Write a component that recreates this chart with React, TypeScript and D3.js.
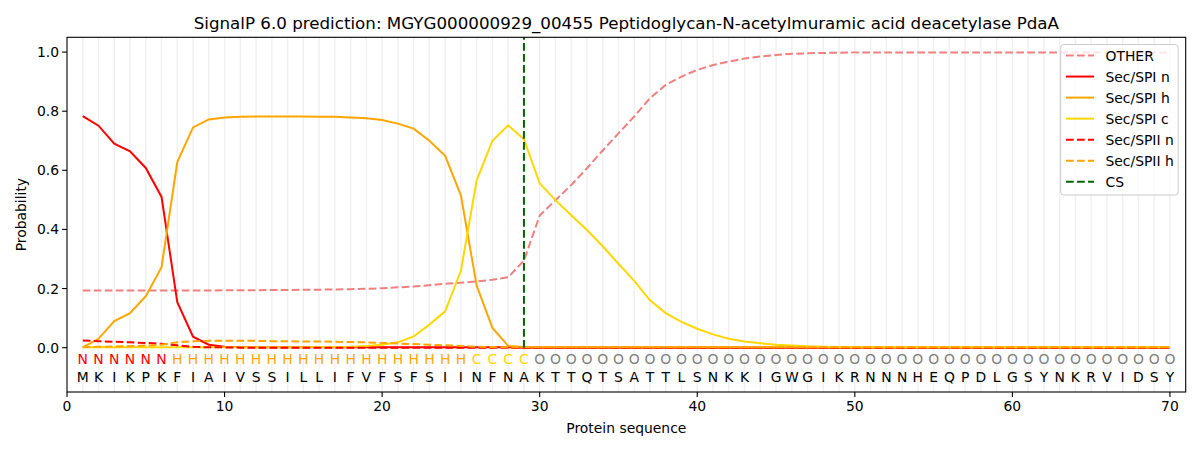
import React from "react";
import { scaleLinear, line, range } from "d3";

const sequence = "MKIKPKFIAIVSSILLIFVFSFSIINFNAKTTQTSATTLSNKKIGWGIKRNNNHEQPDLGSYNKRVIDSY".split("");
const regions = "NNNNNNHHHHHHHHHHHHHHHHHHHCCCCOOOOOOOOOOOOOOOOOOOOOOOOOOOOOOOOOOOOOOOOO".split("");

// per-residue probabilities (positions 1..70)
const other = [
  0.193, 0.193, 0.193, 0.193, 0.193, 0.193, 0.193, 0.193, 0.193, 0.194,
  0.194, 0.194, 0.195, 0.195, 0.196, 0.196, 0.197, 0.198, 0.199, 0.201,
  0.204, 0.207, 0.211, 0.216, 0.220, 0.224, 0.230, 0.238, 0.295, 0.447,
  0.499, 0.550, 0.607, 0.667, 0.725, 0.782, 0.844, 0.889, 0.917, 0.940,
  0.956, 0.968, 0.978, 0.985, 0.990, 0.994, 0.996, 0.997, 0.998, 0.999,
  0.999, 0.999, 0.999, 0.999, 0.999, 0.999, 0.999, 0.999, 0.999, 0.999,
  0.999, 0.999, 0.999, 0.999, 0.999, 0.999, 0.998, 0.998, 0.998, 0.998,
];
const spiN = [
  0.783, 0.751, 0.690, 0.664, 0.608, 0.510, 0.154, 0.037, 0.010, 0.003,
  0.002, 0.001, 0.001, 0.001, 0.001, 0.001, 0.001, 0.001, 0.001, 0.001,
  0.001, 0.001, 0.001, 0.001, 0.001, 0.001, 0.001, 0.001, 0, 0,
  0, 0, 0, 0, 0, 0, 0, 0, 0, 0,
  0, 0, 0, 0, 0, 0, 0, 0, 0, 0,
  0, 0, 0, 0, 0, 0, 0, 0, 0, 0,
  0, 0, 0, 0, 0, 0, 0, 0, 0, 0,
];
const spiH = [
  0.001, 0.030, 0.090, 0.117, 0.174, 0.272, 0.628, 0.745, 0.772, 0.779,
  0.781, 0.782, 0.782, 0.782, 0.782, 0.781, 0.781, 0.779, 0.776, 0.770,
  0.758, 0.741, 0.700, 0.649, 0.515, 0.210, 0.067, 0.006, 0.002, 0.001,
  0.001, 0.001, 0.001, 0.001, 0.001, 0.001, 0.001, 0.001, 0.001, 0.001,
  0.001, 0.001, 0.001, 0.001, 0.001, 0.001, 0.001, 0.001, 0.001, 0.001,
  0.001, 0.001, 0.001, 0.001, 0.001, 0.001, 0.001, 0.001, 0.001, 0.001,
  0.001, 0.001, 0.001, 0.001, 0.001, 0.001, 0.001, 0.001, 0.001, 0.001,
];
const spiC = [
  0.001, 0.001, 0.001, 0.001, 0.001, 0.001, 0.001, 0.001, 0.001, 0.001,
  0.001, 0.001, 0.001, 0.001, 0.001, 0.002, 0.002, 0.003, 0.006, 0.010,
  0.018, 0.038, 0.078, 0.123, 0.260, 0.566, 0.700, 0.752, 0.705, 0.556,
  0.499, 0.448, 0.398, 0.343, 0.284, 0.226, 0.160, 0.117, 0.087, 0.064,
  0.045, 0.030, 0.021, 0.015, 0.010, 0.007, 0.005, 0.003, 0.002, 0.001,
  0.001, 0.001, 0.001, 0.001, 0.001, 0.001, 0.001, 0.001, 0.001, 0.001,
  0.001, 0.001, 0.001, 0.001, 0.001, 0.001, 0.001, 0.001, 0.001, 0.001,
];
const spiiN = [
  0.024, 0.022, 0.020, 0.018, 0.016, 0.013, 0.008, 0.003, 0.001, 0.001,
  0, 0, 0, 0, 0, 0, 0, 0, 0, 0,
  0, 0, 0, 0, 0, 0, 0, 0, 0, 0,
  0, 0, 0, 0, 0, 0, 0, 0, 0, 0,
  0, 0, 0, 0, 0, 0, 0, 0, 0, 0,
  0, 0, 0, 0, 0, 0, 0, 0, 0, 0,
  0, 0, 0, 0, 0, 0, 0, 0, 0, 0,
];
const spiiH = [
  0.001, 0.003, 0.004, 0.005, 0.007, 0.010, 0.018, 0.022, 0.023, 0.023,
  0.023, 0.023, 0.022, 0.022, 0.021, 0.021, 0.020, 0.019, 0.018, 0.016,
  0.014, 0.012, 0.010, 0.008, 0.006, 0.003, 0.002, 0.001, 0.001, 0.001,
  0.001, 0.001, 0.001, 0.001, 0.001, 0.001, 0.001, 0.001, 0.001, 0.001,
  0.001, 0.001, 0.001, 0.001, 0.001, 0.001, 0.001, 0.001, 0.001, 0.001,
  0.001, 0.001, 0.001, 0.001, 0.001, 0.001, 0.001, 0.001, 0.001, 0.001,
  0.001, 0.001, 0.001, 0.001, 0.001, 0.001, 0.001, 0.001, 0.001, 0.001,
];
const csPos = 29;
const xTicks = [0, 10, 20, 30, 40, 50, 60, 70];
const yTicks = [0, 0.2, 0.4, 0.6, 0.8, 1.0];

const series = [
  { name: "OTHER", values: other, color: "#f08080", dashed: true },
  { name: "Sec/SPI n", values: spiN, color: "#ff0000", dashed: false },
  { name: "Sec/SPI h", values: spiH, color: "#ffa500", dashed: false },
  { name: "Sec/SPI c", values: spiC, color: "#ffd700", dashed: false },
  { name: "Sec/SPII n", values: spiiN, color: "#ff0000", dashed: true },
  { name: "Sec/SPII h", values: spiiH, color: "#ffa500", dashed: true },
];

const regionColor = { N: "#ff0000", H: "#ffa500", C: "#ffd700", O: "#808080" };

const W = 1200, H = 450;
const left = 67, right = 1185.7, top = 37.3, bottom = 392;
const font = "DejaVu Sans, sans-serif";
const dash = "7.7,3.3";

export default function App() {
  const x = scaleLinear().domain([0, 71]).range([left, right]);
  const y = scaleLinear().domain([-0.15, 1.05]).range([bottom, top]);
  const pos = range(1, 71);
  const path = line<number>().x((_, i) => x(i + 1)).y((d) => y(d));

  const legendItems = [...series, { name: "CS", color: "#006400", dashed: true }];

  return (
    <div style={{ position: "absolute", left: 0, top: 0 }}>
      <svg width={W} height={H} style={{ fontFamily: font, background: "#fff", display: "block" }}>
        {/* residue gridlines */}
        {pos.map((p) => (
          <line key={p} x1={x(p)} x2={x(p)} y1={top} y2={bottom} stroke="#000" strokeOpacity={0.06} strokeWidth={1.5} />
        ))}

        {series.map((s) => (
          <path key={s.name} d={path(s.values) || ""} fill="none" stroke={s.color} strokeWidth={2}
            strokeDasharray={s.dashed ? dash : undefined} />
        ))}

        <line x1={x(csPos)} x2={x(csPos)} y1={y(0)} y2={top} stroke="#006400" strokeWidth={2} strokeDasharray={dash} />

        {/* region and residue letters */}
        {pos.map((p, i) => (
          <g key={p}>
            <text x={x(p)} y={y(-0.04)} textAnchor="middle" dominantBaseline="central" fontSize={13.9}
              fill={regionColor[regions[i]]}>{regions[i]}</text>
            <text x={x(p)} y={y(-0.1)} textAnchor="middle" dominantBaseline="central" fontSize={13.9}
              fill="#000">{sequence[i]}</text>
          </g>
        ))}

        {/* axes frame */}
        <rect x={left} y={top} width={right - left} height={bottom - top} fill="none" stroke="#000" strokeWidth={1.1} />

        {xTicks.map((t) => (
          <g key={t}>
            <line x1={x(t)} x2={x(t)} y1={bottom} y2={bottom + 4.9} stroke="#000" strokeWidth={1.1} />
            <text x={x(t)} y={bottom + 19} textAnchor="middle" fontSize={13.9}>{t}</text>
          </g>
        ))}
        {yTicks.map((t) => (
          <g key={t}>
            <line x1={left - 4.9} x2={left} y1={y(t)} y2={y(t)} stroke="#000" strokeWidth={1.1} />
            <text x={left - 8} y={y(t)} textAnchor="end" dominantBaseline="central" fontSize={13.9}>{t.toFixed(1)}</text>
          </g>
        ))}

        <text x={(left + right) / 2} y={433} textAnchor="middle" fontSize={13.9}>Protein sequence</text>
        <text transform={`translate(26,${(top + bottom) / 2}) rotate(-90)`} textAnchor="middle" fontSize={13.9}>Probability</text>
        <text x={(left + right) / 2} y={29} textAnchor="middle" fontSize={16.7}>
          SignalP 6.0 prediction: MGYG000000929_00455 Peptidoglycan-N-acetylmuramic acid deacetylase PdaA
        </text>

        {/* legend */}
        <g>
          <rect x={1060.7} y={44.5} width={117.5} height={150.5} rx={3} fill="#fff" fillOpacity={0.8} stroke="#cccccc" strokeWidth={1} />
          {legendItems.map((s, i) => {
            const ly = 55.5 + i * 21.05;
            return (
              <g key={s.name}>
                <line x1={1066} x2={1094} y1={ly} y2={ly} stroke={s.color} strokeWidth={2}
                  strokeDasharray={s.dashed ? dash : undefined} />
                <text x={1105.5} y={ly} dominantBaseline="central" fontSize={13.9}>{s.name}</text>
              </g>
            );
          })}
        </g>
      </svg>
    </div>
  );
}
